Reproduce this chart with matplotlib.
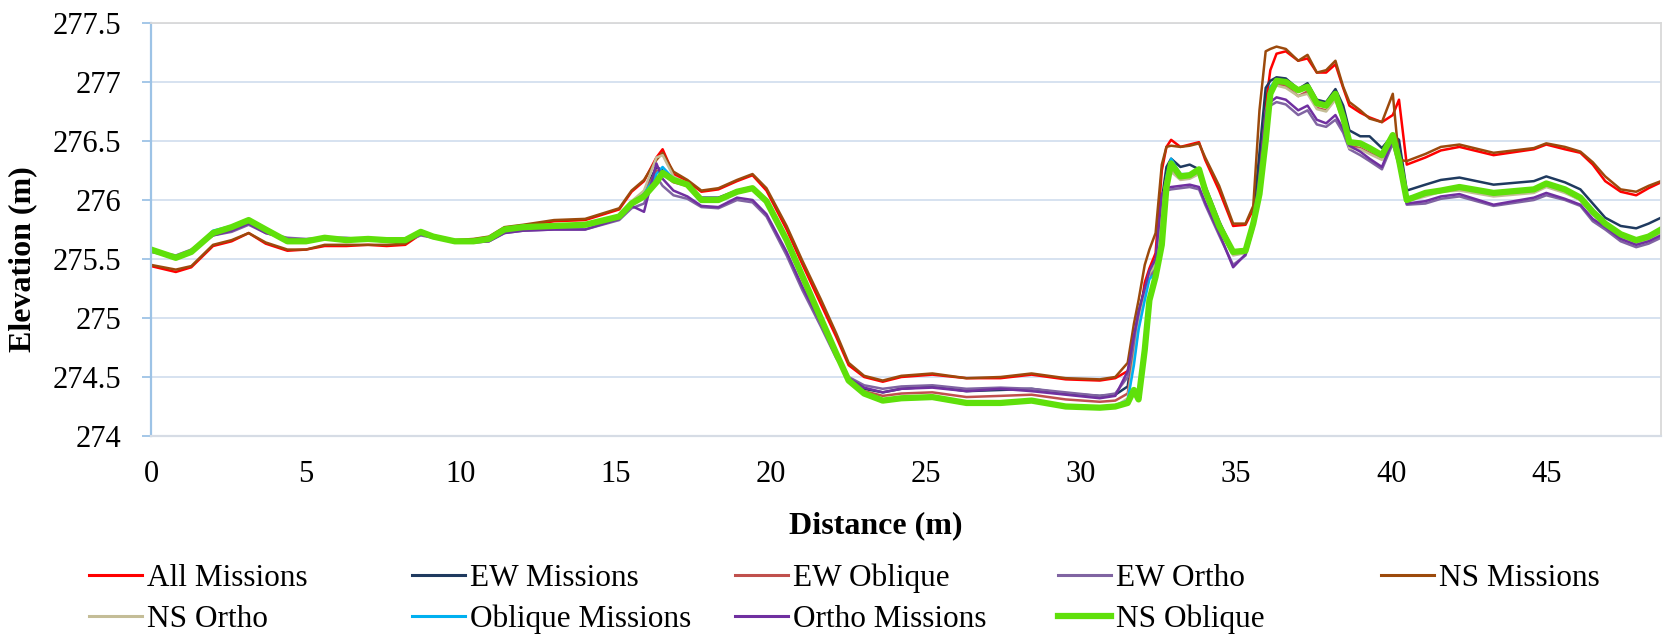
import matplotlib
matplotlib.use('Agg')
from matplotlib import pyplot as plt
from matplotlib.lines import Line2D
import numpy as np

plt.rcParams['font.family'] = ['Liberation Serif', 'DejaVu Serif']

# 剖面距离 (m)
distance = [
    0.0, 0.8, 1.3, 2.0, 2.6, 3.15, 3.7, 4.4, 5.0, 5.6, 6.3,
    7.0, 7.6, 8.2, 8.7, 9.1, 9.8, 10.4, 10.9, 11.4, 12.0, 13.0,
    14.0, 15.1, 15.5, 15.9, 16.3, 16.5, 16.85, 17.3, 17.75, 18.3, 18.9,
    19.4, 19.85, 20.5, 21.0, 21.6, 22.1, 22.5, 23.0, 23.6, 24.2, 25.2,
    26.3, 27.4, 28.4, 29.5, 30.6, 31.1, 31.5, 31.7, 31.85, 32.05, 32.2,
    32.4, 32.6, 32.75, 32.9, 33.2, 33.5, 33.8, 34.0, 34.45, 34.9, 35.3,
    35.55, 35.75, 35.95, 36.1, 36.3, 36.6, 37.0, 37.3, 37.6, 37.9, 38.2,
    38.45, 38.65, 39.0, 39.3, 39.7, 40.05, 40.25, 40.5, 41.1, 41.6, 42.2,
    43.3, 44.6, 45.0, 45.6, 46.1, 46.5, 46.9, 47.4, 47.9, 48.3, 48.7,
]

all_missions = [
    275.44, 275.39, 275.43, 275.61, 275.65, 275.72, 275.63, 275.57, 275.58, 275.61, 275.61,
    275.62, 275.61, 275.62, 275.71, 275.69, 275.65, 275.66, 275.68, 275.76, 275.78, 275.82,
    275.83, 275.92, 276.07, 276.16, 276.36, 276.43, 276.22, 276.16, 276.07, 276.09, 276.16,
    276.21, 276.08, 275.75, 275.46, 275.12, 274.84, 274.60, 274.50, 274.46, 274.50, 274.52,
    274.49, 274.49, 274.52, 274.48, 274.47, 274.49, 274.55, 274.75, 274.95, 275.30, 275.42,
    275.55, 276.25, 276.45, 276.51, 276.45, 276.47, 276.49, 276.34, 276.08, 275.78, 275.79,
    275.92, 276.30, 276.80, 277.10, 277.24, 277.26, 277.18, 277.20, 277.08, 277.08, 277.15,
    276.95, 276.80, 276.74, 276.70, 276.66, 276.72, 276.85, 276.30, 276.36, 276.42, 276.45,
    276.38, 276.43, 276.47, 276.43, 276.40, 276.30, 276.16, 276.07, 276.04, 276.10, 276.15,
]
ew_missions = [
    275.57, 275.52, 275.55, 275.73, 275.77, 275.82, 275.74, 275.66, 275.66, 275.68, 275.67,
    275.67, 275.66, 275.66, 275.72, 275.69, 275.65, 275.65, 275.67, 275.75, 275.77, 275.78,
    275.79, 275.86, 275.98, 276.06, 276.28, 276.25, 276.17, 276.13, 276.02, 276.02, 276.08,
    276.11, 276.00, 275.67, 275.37, 275.02, 274.72, 274.49, 274.40, 274.37, 274.40, 274.42,
    274.38, 274.39, 274.40, 274.36, 274.34, 274.35, 274.42, 274.80, 275.05, 275.25, 275.35,
    275.40, 276.00, 276.28, 276.35, 276.28, 276.30, 276.26, 276.12, 275.82, 275.57, 275.58,
    275.85, 276.40, 276.95, 277.01, 277.04, 277.03, 276.94, 276.99, 276.85, 276.83, 276.94,
    276.80, 276.59, 276.54, 276.54, 276.44, 276.55, 276.51, 276.08, 276.13, 276.17, 276.19,
    276.13, 276.16, 276.20, 276.15, 276.09, 275.97, 275.85, 275.78, 275.76, 275.80, 275.85,
]
ew_oblique = [
    275.57, 275.52, 275.56, 275.72, 275.76, 275.82, 275.74, 275.66, 275.66, 275.68, 275.67,
    275.67, 275.66, 275.66, 275.72, 275.69, 275.65, 275.65, 275.67, 275.75, 275.77, 275.78,
    275.79, 275.86, 275.97, 276.06, 276.25, 276.22, 276.15, 276.12, 276.00, 276.00, 276.06,
    276.09, 275.98, 275.65, 275.35, 275.00, 274.70, 274.47, 274.38, 274.34, 274.36, 274.37,
    274.33, 274.34, 274.35, 274.31, 274.29, 274.30, 274.36, 274.70, 274.95, 275.20, 275.35,
    275.42, 275.95, 276.18, 276.24, 276.19, 276.20, 276.22, 276.05, 275.77, 275.55, 275.56,
    275.79, 276.15, 276.75, 276.93, 276.98, 276.97, 276.88, 276.92, 276.78, 276.76, 276.86,
    276.67, 276.46, 276.44, 276.40, 276.35, 276.50, 276.31, 276.00, 276.04, 276.08, 276.09,
    276.04, 276.07, 276.12, 276.07, 276.00, 275.88, 275.79, 275.69, 275.64, 275.67, 275.73,
]
ew_ortho = [
    275.57, 275.53, 275.58, 275.70, 275.73, 275.79, 275.72, 275.68, 275.67, 275.68, 275.68,
    275.66, 275.65, 275.65, 275.70, 275.68, 275.66, 275.64, 275.65, 275.72, 275.74, 275.75,
    275.75, 275.83, 275.93, 275.97, 276.20, 276.12, 276.04, 276.01, 275.94, 275.93, 276.00,
    275.98, 275.86, 275.53, 275.24, 274.93, 274.66, 274.50, 274.43, 274.40, 274.42, 274.43,
    274.40, 274.41, 274.40, 274.37, 274.34, 274.36, 274.50, 274.80, 275.00, 275.20, 275.35,
    275.45, 276.00, 276.08, 276.09, 276.10, 276.11, 276.09, 275.96, 275.70, 275.45, 275.53,
    275.76, 276.15, 276.70, 276.80, 276.83, 276.81, 276.72, 276.76, 276.64, 276.62, 276.68,
    276.57, 276.43, 276.38, 276.33, 276.26, 276.48, 276.29, 275.96, 275.97, 276.01, 276.03,
    275.95, 276.00, 276.04, 276.00, 275.95, 275.82, 275.75, 275.65, 275.60, 275.63, 275.68,
]
ns_missions = [
    275.45, 275.41, 275.44, 275.62, 275.66, 275.72, 275.64, 275.58, 275.58, 275.62, 275.62,
    275.62, 275.62, 275.63, 275.72, 275.70, 275.66, 275.67, 275.69, 275.77, 275.79, 275.83,
    275.84, 275.93, 276.08, 276.17, 276.34, 276.40, 276.24, 276.17, 276.08, 276.10, 276.17,
    276.22, 276.10, 275.78, 275.49, 275.16, 274.87, 274.62, 274.51, 274.47, 274.51, 274.53,
    274.49, 274.50, 274.53, 274.49, 274.48, 274.50, 274.62, 274.95, 275.15, 275.45, 275.58,
    275.72, 276.30, 276.45, 276.46, 276.45, 276.46, 276.48, 276.36, 276.12, 275.80, 275.80,
    275.95, 276.76, 277.26, 277.28, 277.30, 277.28, 277.18, 277.23, 277.08, 277.10, 277.18,
    276.96, 276.83, 276.76, 276.69, 276.66, 276.90, 276.34, 276.33, 276.39, 276.45, 276.47,
    276.40, 276.44, 276.48, 276.45, 276.41, 276.32, 276.20, 276.09, 276.07, 276.12, 276.16,
]
ns_ortho = [
    275.57, 275.51, 275.56, 275.72, 275.76, 275.82, 275.74, 275.65, 275.66, 275.68, 275.66,
    275.67, 275.66, 275.66, 275.72, 275.69, 275.65, 275.65, 275.67, 275.75, 275.77, 275.78,
    275.79, 275.87, 275.99, 276.08, 276.36, 276.38, 276.20, 276.14, 276.01, 276.01, 276.07,
    276.10, 275.99, 275.66, 275.36, 275.00, 274.70, 274.47, 274.36, 274.30, 274.31, 274.32,
    274.27, 274.27, 274.29, 274.25, 274.24, 274.25, 274.32, 274.65, 274.92, 275.20, 275.38,
    275.45, 275.95, 276.18, 276.24, 276.17, 276.18, 276.22, 276.04, 275.76, 275.53, 275.55,
    275.78, 276.10, 276.70, 276.92, 276.97, 276.95, 276.88, 276.90, 276.77, 276.75, 276.85,
    276.66, 276.44, 276.43, 276.39, 276.34, 276.50, 276.30, 275.99, 276.03, 276.07, 276.08,
    276.03, 276.06, 276.11, 276.06, 276.00, 275.88, 275.79, 275.69, 275.64, 275.67, 275.72,
]
oblique_missions = [
    275.58, 275.52, 275.56, 275.74, 275.78, 275.84, 275.76, 275.66, 275.66, 275.68, 275.67,
    275.67, 275.66, 275.66, 275.73, 275.69, 275.65, 275.65, 275.67, 275.75, 275.77, 275.78,
    275.79, 275.86, 275.97, 276.05, 276.22, 276.28, 276.18, 276.13, 276.01, 276.01, 276.07,
    276.10, 275.99, 275.65, 275.35, 275.00, 274.69, 274.46, 274.35, 274.29, 274.31, 274.33,
    274.28, 274.28, 274.30, 274.25, 274.24, 274.26, 274.30, 274.60, 274.90, 275.15, 275.33,
    275.38, 275.70, 276.20, 276.35, 276.22, 276.22, 276.25, 276.07, 275.78, 275.56, 275.57,
    275.80, 276.10, 276.70, 276.96, 277.02, 277.01, 276.93, 276.96, 276.82, 276.79, 276.89,
    276.69, 276.48, 276.47, 276.43, 276.37, 276.52, 276.33, 276.02, 276.05, 276.09, 276.10,
    276.05, 276.08, 276.13, 276.08, 276.01, 275.89, 275.80, 275.70, 275.65, 275.68, 275.74,
]
ortho_missions = [
    275.56, 275.52, 275.57, 275.70, 275.74, 275.80, 275.72, 275.67, 275.66, 275.68, 275.67,
    275.66, 275.65, 275.65, 275.71, 275.68, 275.65, 275.64, 275.65, 275.72, 275.74, 275.75,
    275.75, 275.84, 275.95, 275.90, 276.31, 276.18, 276.08, 276.03, 275.95, 275.94, 276.02,
    276.00, 275.88, 275.56, 275.27, 274.96, 274.68, 274.49, 274.41, 274.37, 274.40, 274.41,
    274.38, 274.40, 274.38, 274.35, 274.32, 274.34, 274.55, 274.85, 275.05, 275.25, 275.40,
    275.50, 276.05, 276.10, 276.11, 276.12, 276.13, 276.11, 275.98, 275.72, 275.43, 275.54,
    275.77, 276.20, 276.75, 276.83, 276.87, 276.85, 276.76, 276.80, 276.68, 276.65, 276.72,
    276.60, 276.46, 276.41, 276.35, 276.28, 276.51, 276.31, 275.97, 275.99, 276.03, 276.05,
    275.96, 276.02, 276.06, 276.01, 275.96, 275.84, 275.77, 275.67, 275.62, 275.65, 275.70,
]
ns_oblique = [
    275.58, 275.51, 275.56, 275.72, 275.77, 275.83, 275.75, 275.65, 275.65, 275.68, 275.66,
    275.67, 275.66, 275.66, 275.73, 275.69, 275.65, 275.65, 275.67, 275.75, 275.77, 275.78,
    275.79, 275.86, 275.97, 276.03, 276.15, 276.23, 276.17, 276.13, 276.00, 276.00, 276.07,
    276.10, 275.99, 275.66, 275.36, 275.00, 274.70, 274.47, 274.36, 274.30, 274.32, 274.33,
    274.28, 274.28, 274.30, 274.25, 274.24, 274.25, 274.28, 274.39, 274.31, 274.73, 275.15,
    275.35, 275.62, 276.11, 276.31, 276.20, 276.21, 276.26, 276.08, 275.78, 275.56, 275.57,
    275.80, 276.05, 276.50, 276.90, 277.01, 277.00, 276.93, 276.96, 276.82, 276.80, 276.90,
    276.70, 276.49, 276.48, 276.44, 276.38, 276.55, 276.34, 276.00, 276.06, 276.08, 276.11,
    276.06, 276.09, 276.14, 276.09, 276.02, 275.90, 275.80, 275.71, 275.66, 275.69, 275.75,
]

series = [
    ('All Missions', all_missions, '#FF0000', 1.8),
    ('EW Missions', ew_missions, '#1F3A5F', 1.8),
    ('EW Oblique', ew_oblique, '#C0504D', 1.8),
    ('EW Ortho', ew_ortho, '#8064A2', 1.8),
    ('NS Missions', ns_missions, '#9C4A0C', 1.8),
    ('NS Ortho', ns_ortho, '#C4BD97', 1.8),
    ('Oblique Missions', oblique_missions, '#00B0F0', 1.8),
    ('Ortho Missions', ortho_missions, '#7030A0', 1.8),
    ('NS Oblique', ns_oblique, '#5FE00A', 4.5),
]

fig = plt.figure(figsize=(16.63, 6.36), dpi=100)
ax = fig.add_axes([151 / 1663, 1 - 436 / 636, 1510 / 1663, 413 / 636])

for name, y, c, lw in series:
    assert len(y) == len(distance), name
    ax.plot(distance, y, color=c, lw=lw, solid_joinstyle='round', label=name)

ax.set_xlim(0, 48.7)
ax.set_ylim(274, 277.5)
ax.set_xticks(np.arange(0, 46, 5))
ax.set_yticks(np.arange(274, 277.51, 0.5))
ax.set_yticklabels(['%g' % v for v in np.arange(274, 277.51, 0.5)])
ax.yaxis.grid(True, color='#D3DFEF', lw=1.3)
ax.set_axisbelow(True)
ax.tick_params(axis='x', length=0, pad=17, labelsize=22)
ax.tick_params(axis='y', length=6.5, width=1.3, color='#9DC3E6', pad=15, labelsize=22)

ax.spines['left'].set_color('#9DC3E6')
ax.spines['left'].set_linewidth(1.6)
ax.spines['bottom'].set_color('#D6DCE5')
ax.spines['bottom'].set_linewidth(1.6)
for s in ['top', 'right']:
    ax.spines[s].set_color('#D9D9D9')
    ax.spines[s].set_linewidth(1.3)

fig.text(23 / 1663, 1 - 259 / 636, 'Elevation (m)', rotation=90, fontsize=23,
         fontweight='bold', ha='center', va='center')
fig.text(876 / 1663, 1 - 526 / 636, 'Distance (m)', fontsize=23,
         fontweight='bold', ha='center', va='center')

# 图例：Excel 风格，等宽列，按行排列
col_x = [89, 412, 735, 1058, 1381]
row_y = [575, 616]
for i, (name, y, c, lw) in enumerate(series):
    r, k = divmod(i, 5)
    x0 = col_x[k] / 1663
    yy = 1 - row_y[r] / 636
    fig.add_artist(Line2D([x0, x0 + 53 / 1663], [yy, yy], color=c,
                          lw=2.2 if lw < 3 else lw, transform=fig.transFigure))
    fig.text(x0 + 58 / 1663, yy, name, fontsize=22.5, ha='left', va='center_baseline')

fig.savefig('out.png', dpi=100)
